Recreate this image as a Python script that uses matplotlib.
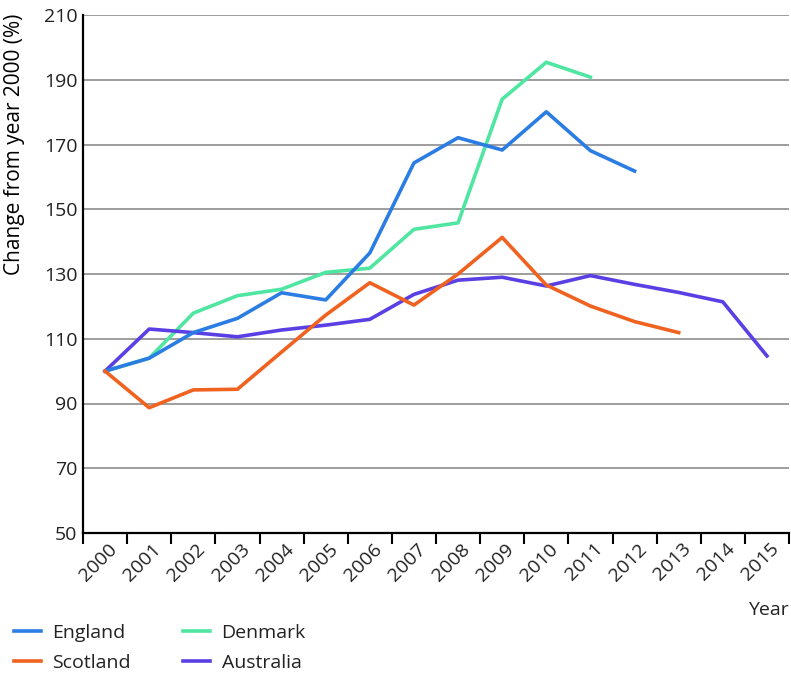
import matplotlib
matplotlib.use("Agg")
import matplotlib.pyplot as plt
from matplotlib.transforms import ScaledTranslation

years = [str(y) for y in range(2000, 2016)]

england = [100, 104, 111.9, 116.3, 124.2, 122, 136.5, 164.3, 172.1, 168.3, 180.1, 168.1, 161.8]
scotland = [100, 88.7, 94.2, 94.4, 105.9, 117.3, 127.3, 120.4, 130, 141.3, 126.6, 120.1, 115.3, 111.9]
denmark = [100, 104, 117.9, 123.3, 125.3, 130.5, 131.8, 143.8, 145.8, 184, 195.4, 190.8]
australia = [100, 113, 111.9, 110.6, 112.7, 114.2, 116, 123.7, 128.1, 129, 126.3, 129.5, 126.8, 124.3, 121.4, 104.7]

# drawing order (bottom to top) and colours
series = [
    ("Denmark", denmark, "#4fe6a2"),
    ("Australia", australia, "#5a3fe4"),
    ("England", england, "#2b7de3"),
    ("Scotland", scotland, "#f0621f"),
]
legend_order = ["England", "Scotland", "Denmark", "Australia"]

plt.rcParams["font.family"] = ["Open Sans", "DejaVu Sans"]
plt.rcParams["text.color"] = "#222222"

fig = plt.figure(figsize=(7.91, 6.75), dpi=100)
ax = fig.add_axes([83 / 791, 1 - 533 / 675, 706 / 791, 518 / 675])

handles = {}
for name, vals, color in series:
    xs = [i + 0.5 for i in range(len(vals))]
    (ln,) = ax.plot(xs, vals, color=color, lw=2.6, label=name)
    handles[name] = ln

ax.set_xlim(0, len(years))
ax.set_ylim(50, 210)
ax.set_yticks(range(50, 211, 20))
ax.set_xticks(range(0, len(years) + 1))
ax.set_xticklabels([])
ax.set_xticks([i + 0.5 for i in range(len(years))], minor=True)
ax.set_xticklabels(years, minor=True, rotation=45, ha="right", rotation_mode="anchor",
                   fontsize=14, color="#222222")
ax.tick_params(axis="x", which="major", length=8, width=1.5, color="black")
ax.tick_params(axis="x", which="minor", length=0, pad=5)
off = ScaledTranslation(3 / 100, 0, fig.dpi_scale_trans)
for lbl in ax.get_xticklabels(minor=True):
    lbl.set_transform(lbl.get_transform() + off)
ax.tick_params(axis="y", length=0, pad=4, labelsize=14, labelcolor="#222222")

ax.grid(axis="y", color="#8c8c8c", lw=1.2)
ax.set_axisbelow(True)
for s in ("top", "right"):
    ax.spines[s].set_visible(False)
for s in ("left", "bottom"):
    ax.spines[s].set_linewidth(1.6)
    ax.spines[s].set_color("black")

ax.set_ylabel("Change from year 2000 (%)", fontsize=15)
ax.yaxis.set_label_coords(-0.082, 0.75)
ax.text(1.0, -0.149, "Year", transform=ax.transAxes, ha="right", va="center", fontsize=14)

fig.legend([handles[n] for n in legend_order], legend_order, ncol=2, frameon=False,
           loc="upper left", bbox_to_anchor=(0.0, 1 - 610 / 675), fontsize=14,
           handlelength=1.4, columnspacing=2.65, labelspacing=0.62, handletextpad=0.6,
           borderaxespad=0.3)

fig.savefig("out.png", dpi=100)
